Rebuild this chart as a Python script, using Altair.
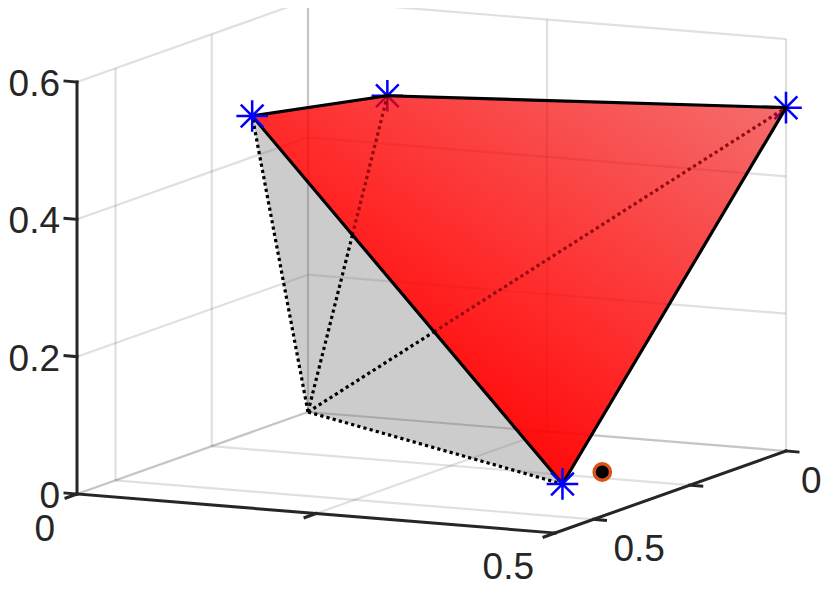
import altair as alt
import pandas as pd

# ---- 3D data values -------------------------------------------------------
VERTEX_X = [0.0, 0.0, 0.083, 0.5, 0.389]      # origin, then the four starred vertices
VERTEX_Y = [0.0, 0.145, 0.0, 0.0, 0.305]
VERTEX_Z = [0.0, 0.46, 0.47, 0.5, 0.0]
DOT = (0.394, 0.214, 0.0)
X_LIM = [0.0, 0.5]
Y_LIM = [0.0, 0.6]
Z_LIM = [0.0, 0.6]
X_TICKS = [0.0, 0.25, 0.5]
Y_TICKS = [0.0, 0.25, 0.5]
Z_TICKS = [0.0, 0.2, 0.4, 0.6]
Z_LABELS = ["0", "0.2", "0.4", "0.6"]

INK = "#262626"
FONT = "Liberation Sans"
FS = 37


# orthographic view of the 3D box onto the page
def proj(p):
    x, y, z = p
    return (308 + 478 * x / 0.5 - 231 * y / 0.6,
            412 + 39 * x / 0.5 + 82 * y / 0.6 - 412 * z / 0.6)


V = [(a, b, c) for a, b, c in zip(VERTEX_X, VERTEX_Y, VERTEX_Z)]
O, P1, P2, P3, P4 = V

XS = alt.Scale(domain=[8, 822], nice=False, zero=False)
YS = alt.Scale(domain=[581, 8], nice=False, zero=False)
ex = alt.X("x:Q", scale=XS, axis=None)
ey = alt.Y("y:Q", scale=YS, axis=None)


def segs(pairs, color, width, opacity=1.0, dash=None, cap="butt"):
    rows = []
    for k, (a, b) in enumerate(pairs):
        for i, q in enumerate((a, b)):
            px, py = q if len(q) == 2 else proj(q)
            rows.append({"x": px, "y": py, "id": k, "i": i})
    kw = dict(color=color, strokeWidth=width, opacity=opacity, strokeCap=cap, clip=False)
    if dash:
        kw["strokeDash"] = dash
    return alt.Chart(pd.DataFrame(rows)).mark_line(**kw).encode(
        x=ex, y=ey, detail="id:N", order="i:Q")


def polygon(points):
    pts = [proj(p) for p in points]
    xs = sorted(p[0] for p in pts)
    n = len(pts)
    rows = []
    for x in xs:
        hits = []
        for i in range(n):
            a, b = pts[i], pts[(i + 1) % n]
            lo, hi = min(a[0], b[0]), max(a[0], b[0])
            if lo <= x <= hi and hi > lo:
                hits.append(a[1] + (b[1] - a[1]) * (x - a[0]) / (b[0] - a[0]))
        rows.append({"x": x, "y": min(hits), "y2": max(hits)})
    return pd.DataFrame(rows)


def crossing(a, b, c, d):
    ax, ay = proj(a); bx, by = proj(b); cx, cy = proj(c); dx, dy = proj(d)
    den = (bx - ax) * (dy - cy) - (by - ay) * (dx - cx)
    t = ((cx - ax) * (dy - cy) - (cy - ay) * (dx - cx)) / den
    return (ax + t * (bx - ax), ay + t * (by - ay))


# ---- grid ---------------------------------------------------------------
xa, xb = X_LIM
ya, yb = Y_LIM
za, zb = Z_LIM
grid = []
for t in X_TICKS:
    grid.append(((t, ya, za), (t, yb, za)))      # floor
    grid.append(((t, ya, za), (t, ya, zb)))      # y=0 wall
for t in Y_TICKS:
    grid.append(((xa, t, za), (xb, t, za)))      # floor
    grid.append(((xa, t, za), (xa, t, zb)))      # x=0 wall
for t in Z_TICKS:
    grid.append(((xa, ya, t), (xb, ya, t)))      # y=0 wall
    grid.append(((xa, ya, t), (xa, yb, t)))      # x=0 wall
grid_layer = segs(grid, INK, 2.2, 0.14)

# ---- axes ---------------------------------------------------------------
axis_lines = [((xa, yb, za), (xa, yb, zb)),
              ((xa, yb, za), (xb, yb, za)),
              ((xb, yb, za), (xb, ya, za))]
ticks = []
for t in Z_TICKS:
    a = (xa, yb, t)
    px, py = proj(a)
    ticks.append(((px, py), (px - 12, py - 1)))
for t in X_TICKS:
    px, py = proj((t, yb, za))
    ticks.append(((px, py), (px - 11, py + 4)))
for t in Y_TICKS:
    px, py = proj((xb, t, za))
    ticks.append(((px, py), (px + 12, py + 1)))
axis_layer = segs(axis_lines + ticks, INK, 3.0, cap="square")

# ---- tick labels --------------------------------------------------------
lab = []
for t, s in zip(Z_TICKS, Z_LABELS):
    px, py = proj((xa, yb, t))
    lab.append({"x": px - 17, "y": py + 14, "t": s, "a": "right"})
px, py = proj((xa, yb, za))
lab.append({"x": px - 22, "y": py + 47, "t": "0", "a": "right"})
px, py = proj((xb, yb, za))
lab.append({"x": px - 21, "y": py + 46, "t": "0.5", "a": "right"})
px, py = proj((xb, 0.5, za))
lab.append({"x": px + 20, "y": py + 42, "t": "0.5", "a": "left"})
px, py = proj((xb, ya, za))
lab.append({"x": px + 15, "y": py + 42, "t": "0", "a": "left"})
lab_df = pd.DataFrame(lab)
labels = alt.layer(*[
    alt.Chart(lab_df[lab_df.a == al]).mark_text(
        font=FONT, fontSize=FS, color=INK, align=al, baseline="alphabetic", clip=False
    ).encode(x=ex, y=ey, text="t:N")
    for al in ("left", "right")
])

# ---- polytope faces -----------------------------------------------------
gray_face = alt.Chart(polygon([O, P1, P4])).mark_area(
    color="#808080", opacity=0.4, line=False
).encode(x=ex, y=ey, y2="y2:Q")

red_fill = alt.Gradient(
    gradient="linear", x1=0.3, y1=1.0, x2=1.1, y2=0.1,
    stops=[alt.GradientStop(offset=0.0, color="rgba(255,0,0,0.97)"),
           alt.GradientStop(offset=0.15, color="rgba(255,0,0,0.96)"),
           alt.GradientStop(offset=0.43, color="rgba(255,0,0,0.83)"),
           alt.GradientStop(offset=1.0, color="rgba(238,0,0,0.57)")],
)
red_face = alt.Chart(polygon([P1, P2, P3, P4])).mark_area(color=red_fill).encode(
    x=ex, y=ey, y2="y2:Q")

c2 = crossing(O, P2, P1, P4)
c3 = crossing(O, P3, P1, P4)
dots_under = segs([(O, P1), (O, P4), (O, c2), (O, c3)], "#000000", 3.2, dash=[3.2, 3.2])
dots_over = segs([(c2, P2), (c3, P3)], "#900a10", 3.2, dash=[3.2, 3.2])
edges = segs([(P1, P2), (P2, P3), (P3, P4), (P4, P1)], "#000000", 3.2, cap="round")

# ---- markers ------------------------------------------------------------
STAR = "M-1,0L1,0M0,-1L0,1M-0.72,-0.72L0.72,0.72M-0.72,0.72L0.72,-0.72"


def stars(points):
    df = pd.DataFrame([{"x": proj(p)[0], "y": proj(p)[1]} for p in points])
    return alt.Chart(df).mark_point(
        shape=STAR, size=1000, filled=False, stroke="#0000ff", strokeWidth=2.5, opacity=1
    ).encode(x=ex, y=ey)


dot_df = pd.DataFrame([{"x": proj(DOT)[0], "y": proj(DOT)[1]}])
dot = alt.Chart(dot_df).mark_point(
    shape="circle", size=270, filled=True, fill="#000000", stroke="#d95319",
    strokeWidth=3.4, opacity=1
).encode(x=ex, y=ey)

chart = alt.layer(
    grid_layer, gray_face, dots_under, stars([P2, P3]), red_face, dots_over,
    axis_layer, labels, edges, stars([P1, P4]), dot,
).properties(
    width=814, height=573, padding=0, autosize="none", background="white",
).configure_view(stroke=None)

chart.save("out.html", embed_options={"renderer": "svg", "actions": False})
